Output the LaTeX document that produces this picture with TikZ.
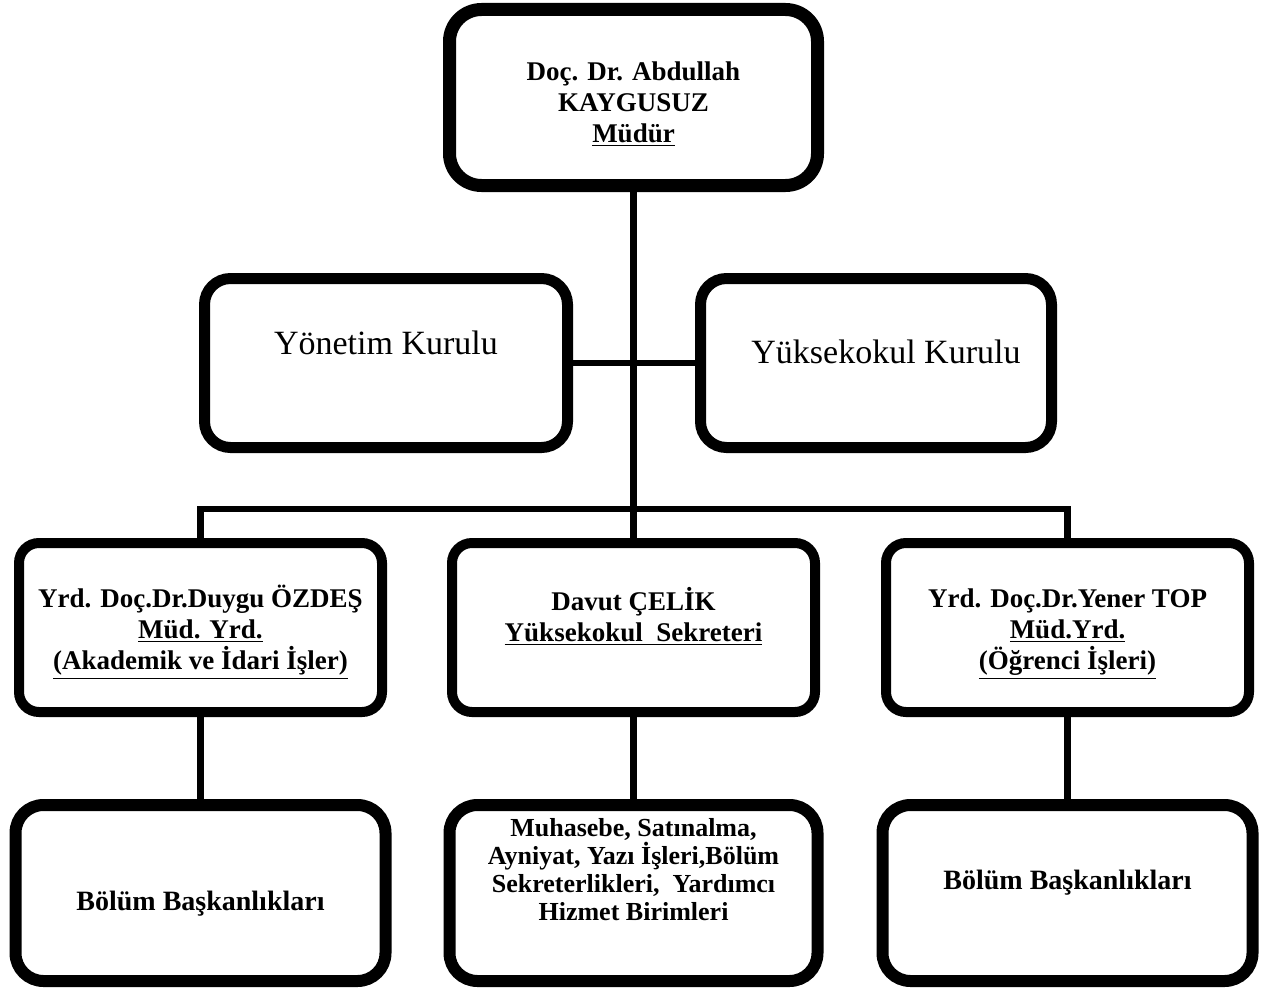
\documentclass[tikz,border=0pt]{standalone}
\usepackage{fontspec}
\setmainfont{Liberation Serif}
\usetikzlibrary{positioning}
\tikzset{
orgbox/.style={draw, fill=white, align=center, inner sep=2pt, font=\bfseries\fontsize{13.5}{15.5}\selectfont}, % every box of the chart
chief/.style={orgbox, line width=6.5pt, rounded corners=16pt, minimum width=184pt, minimum height=88pt}, % the director
board/.style={orgbox, line width=5.5pt, rounded corners=13pt, minimum height=84.5pt, font=\fontsize{17}{20}\selectfont}, % the two councils
deputy/.style={orgbox, line width=5pt, rounded corners=10pt, minimum width=181.5pt, minimum height=84.5pt}, % second row
office/.style={orgbox, line width=6pt, rounded corners=14pt, minimum width=185pt, minimum height=88pt, font=\bfseries\fontsize{14}{16}\selectfont}, % last row
link/.style={line width=3.2pt}, % the connecting lines
}
\newcommand{\lift}[1]{\rule[-#1]{0pt}{#1}} % pushes a text upwards inside its box
\newcommand{\sink}[1]{\rule{0pt}{#1}} % pushes it downwards

\begin{document}
\begin{tikzpicture}[x=0.5pt, y=-0.5pt]
            \useasboundingbox (0,0) rectangle (1273,990);
            \node[chief] (mdr) at (633.5,97.5) {\sink{16pt}Doç. Dr. Abdullah\\ KAYGUSUZ\\ \underline{Müdür}};
            \node[board, minimum width=181.5pt] (ynt) at (386,363) {Yönetim Kurulu\lift{20pt}};
            \node[board, minimum width=175.5pt] (ykk) at (876,363) {\hspace*{10pt}Yüksekokul Kurulu\lift{11pt}};
            \node[deputy] (dvt) at (633.5,627.5) {Davut ÇELİK\\ \underline{Yüksekokul\ \ Sekreteri}\lift{13pt}};
            \node[deputy, left=30pt of dvt] (dyg) {\sink{16pt}Yrd. Doç.Dr.Duygu ÖZDEŞ\\ \underline{Müd. Yrd.}\\ \underline{(Akademik ve İdari İşler)}};
            \node[deputy, right=30.5pt of dvt] (ynr) {\sink{16pt}Yrd. Doç.Dr.Yener TOP\\ \underline{Müd.Yrd.}\\ \underline{(Öğrenci İşleri)}};
            \node[office, below=41pt of dyg] (bb1) {\sink{20pt}Bölüm Başkanlıkları};
            \node[office, below=41pt of dvt, minimum width=184pt, font=\bfseries\fontsize{13}{14}\selectfont] (srv) {Muhasebe, Satınalma,\\ Ayniyat, Yazı İşleri,Bölüm\\ Sekreterlikleri,\ \ Yardımcı\\ Hizmet Birimleri\lift{24pt}};
            \node[office, below=41pt of ynr] (bb2) {Bölüm Başkanlıkları\lift{13pt}};
            \coordinate (bus) at (633.5,509);
            \draw[link]
                (mdr) -- (dvt)
                (ynt) -- (ykk)
                (dyg.north) |- (bus) -| (ynr.north)
                (dyg) -- (bb1)
                (dvt) -- (srv)
                (ynr) -- (bb2)
            ;
        \end{tikzpicture}
\end{document}
